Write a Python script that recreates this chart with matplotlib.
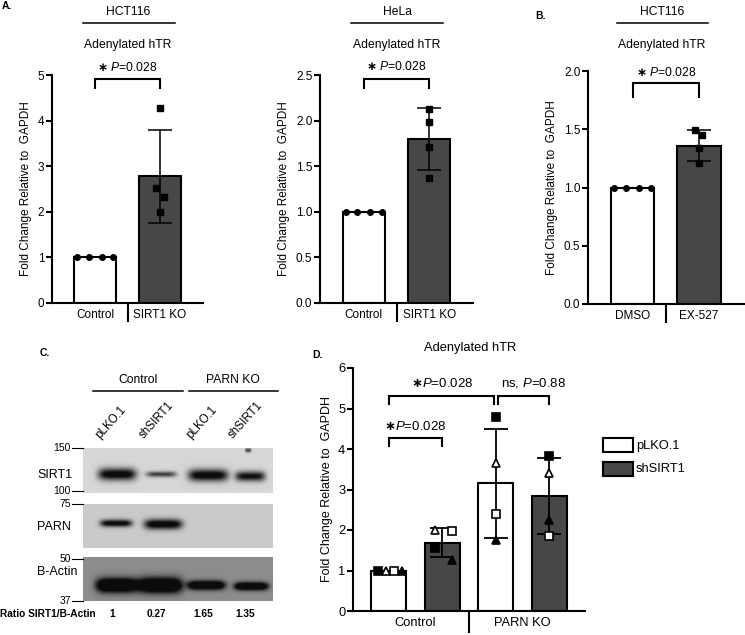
import numpy as np
import matplotlib.pyplot as plt
from matplotlib.patches import Rectangle

plt.rcParams['font.family'] = ['Liberation Sans', 'DejaVu Sans']
plt.rcParams['mathtext.fontset'] = 'custom'
plt.rcParams['mathtext.rm'] = 'Liberation Sans'
plt.rcParams['mathtext.it'] = 'Liberation Sans:italic'
plt.rcParams['mathtext.bf'] = 'DejaVu Sans:bold'
plt.rcParams['mathtext.fallback'] = 'stixsans'

W, H = 745, 635
DARK = '#474747'
STAR = r'$\mathbf{\ast}$'

# ---- data ----
a1_labels = ['Control', 'SIRT1 KO']
a1_mean = [1.0, 2.78]
a1_sd = [0.0, 1.02]
a1_points = [[1.0, 1.0, 1.0, 1.0], [4.28, 2.52, 2.33, 2.0]]

a2_labels = ['Control', 'SIRT1 KO']
a2_mean = [1.0, 1.80]
a2_sd = [0.0, 0.34]
a2_points = [[1.0, 1.0, 1.0, 1.0], [2.13, 1.98, 1.71, 1.37]]

b_labels = ['DMSO', 'EX-527']
b_mean = [1.0, 1.36]
b_sd = [0.0, 0.13]
b_points = [[1.0, 1.0, 1.0, 1.0], [1.49, 1.45, 1.34, 1.21]]

d_groups = ['Control', 'PARN KO']
d_conditions = ['pLKO.1', 'shSIRT1']
d_mean = {'pLKO.1': [1.0, 3.15], 'shSIRT1': [1.69, 2.835]}
d_sd = {'pLKO.1': [0.0, 1.35], 'shSIRT1': [0.36, 0.935]}
# replicates: filled square, open triangle, open square, filled triangle
d_points = {'pLKO.1': [[1.0, 1.0, 1.0, 0.98], [4.8, 3.65, 2.4, 1.75]],
            'shSIRT1': [[1.55, 2.0, 1.97, 1.25], [3.83, 3.4, 1.85, 2.25]]}

c_lanes = ['pLKO.1', 'shSIRT1', 'pLKO.1', 'shSIRT1']
c_ratio = ['1', '0.27', '1.65', '1.35']

# jitter of replicate dots (layout only)
ctrl_jit = [-0.28, -0.1, 0.1, 0.28]
a1_jit = [0.0, -0.06, 0.06, 0.0]
a2_jit = [0.0, 0.0, 0.0, 0.0]
b_jit = [-0.06, 0.05, 0.0, 0.0]
d_jit = {('pLKO.1', 0): [-0.1, -0.03, 0.05, 0.12], ('shSIRT1', 0): [-0.07, -0.07, 0.09, 0.09],
         ('pLKO.1', 1): [0, 0, 0, 0], ('shSIRT1', 1): [0, 0, 0, 0]}
d_marks = [('s', 'black'), ('^', 'white'), ('s', 'white'), ('^', 'black')]


def px_rect(x0, y0, x1, y1):
    return [x0 / W, 1 - y1 / H, (x1 - x0) / W, (y1 - y0) / H]


def style_axes(ax, fs=8.5, div_len=13.5):
    for s in ['top', 'right']:
        ax.spines[s].set_visible(False)
    for s in ['left', 'bottom']:
        ax.spines[s].set_linewidth(1.5)
    ax.tick_params(axis='y', direction='out', length=4, width=1.5, labelsize=fs, pad=1.5)
    ax.tick_params(axis='x', which='major', length=0, labelsize=fs, pad=4)
    ax.set_xticks([0.5], minor=True)
    ax.tick_params(axis='x', which='minor', length=div_len, width=1.5, direction='out')
    ax.set_facecolor('none')


def bracket(ax, x0, x1, ytop, ybot, lw=1.5):
    ax.plot([x0, x0, x1, x1], [ybot, ytop, ytop, ybot], color='black', lw=lw, clip_on=False,
            solid_joinstyle='miter')


fig = plt.figure(figsize=(W / 100, H / 100), dpi=100)
ov = fig.add_axes([0, 0, 1, 1])
ov.set_xlim(0, W)
ov.set_ylim(H, 0)
ov.axis('off')


def small_bar(rect, labels, mean, sd, points, jit, ylim, yticks, fmt, br, xlim=(-0.67, 1.67)):
    ax = fig.add_axes(px_rect(*rect))
    ax.set_zorder(2)
    x = np.arange(len(labels))
    ax.bar(x, mean, width=0.65, color=['white', DARK], edgecolor='black', linewidth=1.5, zorder=2)
    ax.errorbar(x, mean, yerr=sd, fmt='none', ecolor='black', elinewidth=1.1, capsize=8.5,
                capthick=1.1, zorder=3)
    ax.plot(x[0] + np.array(ctrl_jit), points[0], 'o', color='black', ms=4, zorder=4, clip_on=False)
    ax.plot(x[1] + np.array(jit), points[1], 's', color='black', ms=4.3, zorder=4, clip_on=False)
    ax.set_xlim(*xlim)
    ax.set_ylim(*ylim)
    ax.set_yticks(yticks)
    ax.set_yticklabels([fmt.format(t) for t in yticks])
    ax.set_xticks(x)
    ax.set_xticklabels(labels)
    ax.set_ylabel('Fold Change Relative to  GAPDH', fontsize=8.5, labelpad=4)
    style_axes(ax)
    bracket(ax, 0, 1, br[0], br[1])
    ax.text(0.5, br[2], STAR + r' $\it{P}$=0.028', ha='center', va='center', fontsize=8.7)
    return ax


small_bar((52, 75, 203, 303), a1_labels, a1_mean, a1_sd, a1_points, a1_jit,
          (0, 5), [0, 1, 2, 3, 4, 5], '{:g}', (4.91, 4.71, 5.17))
small_bar((320, 75, 473, 303), a2_labels, a2_mean, a2_sd, a2_points, a2_jit,
          (0, 2.5), [0, 0.5, 1, 1.5, 2, 2.5], '{:.1f}', (2.456, 2.357, 2.59))
small_bar((588, 71, 745, 304), b_labels, b_mean, b_sd, b_points, b_jit,
          (0, 2.0), [0, 0.5, 1, 1.5, 2], '{:.1f}', (1.897, 1.777, 1.99), xlim=(-0.67, 1.69))

# headers
for xc, x0, x1, name in [(128, 83, 175, 'HCT116'), (397, 351, 443, 'HeLa'), (662, 617, 708, 'HCT116')]:
    ov.text(xc, 12, name, ha='center', va='center', fontsize=8.7)
    ov.plot([x0, x1], [23, 23], color='black', lw=1.1)
    ov.text(xc, 45, 'Adenylated hTR', ha='center', va='center', fontsize=8.7)
ov.text(2, 6, 'A.', ha='left', va='center', fontsize=7.5, fontweight='bold')
ov.text(535, 16, 'B.', ha='left', va='center', fontsize=7.5, fontweight='bold')

# ---- panel D ----
axd = fig.add_axes(px_rect(353, 368, 585, 611))
axd.set_zorder(2)
gx = np.arange(len(d_groups))
for k, cond in enumerate(d_conditions):
    off = -0.25 if k == 0 else 0.25
    xs = gx + off
    axd.bar(xs, d_mean[cond], width=0.325, color='white' if k == 0 else DARK,
            edgecolor='black', linewidth=1.5, zorder=2)
    axd.errorbar(xs, d_mean[cond], yerr=d_sd[cond], fmt='none', ecolor='black', elinewidth=1.3,
                 capsize=8.5, capthick=1.3, zorder=3)
    for g in range(len(d_groups)):
        for r, (m, fc) in enumerate(d_marks):
            axd.plot(xs[g] + d_jit[(cond, g)][r], d_points[cond][g][r], m, mfc=fc, mec='black',
                     mew=1.2, ms=6.3, zorder=4)
axd.set_xlim(-0.584, 1.584)
axd.set_ylim(0, 6)
axd.set_yticks(range(7))
axd.set_xticks(gx)
axd.set_xticklabels(d_groups)
axd.set_ylabel('Fold Change Relative to  GAPDH', fontsize=9, labelpad=4)
style_axes(axd, fs=9.3, div_len=16)
bracket(axd, -0.25, 0.25, 4.27, 4.07)
axd.text(0.0, 4.56, STAR + r'$\it{P}$=0.028', ha='center', va='center', fontsize=9.5)
bracket(axd, -0.25, 0.73, 5.31, 5.11)
axd.text(0.25, 5.62, STAR + r'$\it{P}$=0.028', ha='center', va='center', fontsize=9.5)
bracket(axd, 0.77, 1.25, 5.31, 5.11)
axd.text(1.1, 5.62, r'ns, $\it{P}$=0.88', ha='center', va='center', fontsize=9.5)
ov.text(470, 348, 'Adenylated hTR', ha='center', va='center', fontsize=9.3)
ov.text(312, 355, 'D.', ha='left', va='center', fontsize=7.5, fontweight='bold')
for k, cond in enumerate(d_conditions):
    y0 = 438 + k * 24
    ov.add_patch(Rectangle((603, y0), 30, 14, facecolor='white' if k == 0 else DARK,
                           edgecolor='black', lw=1.5))
    ov.text(636, y0 + 7.5, cond, ha='left', va='center', fontsize=9.3)

# ---- panel C: western blot ----
lane_x = [117, 161, 208, 250]
blots = [
    # name, y0, y1, background, bands (x, halfwidth, y, halfheight, darkness)
    ('SIRT1', 448, 493, 0.84, [(117, 19, 474, 6.0, 0.9), (161, 15, 474, 2.8, 0.6),
                               (208, 20, 475, 6.0, 0.9), (250, 15, 476, 5.0, 0.8),
                               (248, 3, 450, 2.0, 0.6)]),
    ('PARN', 504, 548, 0.79, [(116, 16, 523, 3.6, 0.85), (163, 19, 524, 5.0, 0.9)]),
    ('B-Actin', 557, 601, 0.55, [(117, 21, 585, 7.0, 0.95), (160, 22, 585, 7.5, 0.95),
                                 (206, 19, 585, 4.5, 0.85), (251, 17, 586, 4.0, 0.85)]),
]
bx0, bx1 = 83, 273
for name, y0, y1, bg, bands in blots:
    xx, yy = np.meshgrid(np.arange(bx0, bx1, 0.5), np.arange(y0, y1, 0.5))
    img = np.full(xx.shape, bg)
    for (cx, hw, cy, hh, dk) in bands:
        img -= dk * np.exp(-np.abs((xx - cx) / hw) ** 5) * np.exp(-((yy - cy) / hh) ** 2)
    img = np.clip(img, 0.05, 1)
    ov.imshow(img, cmap='gray', vmin=0, vmax=1, extent=(bx0, bx1, y1, y0), aspect='auto',
              interpolation='bilinear')
ov.set_xlim(0, W)
ov.set_ylim(H, 0)

ov.text(37, 475, 'SIRT1', ha='left', va='center', fontsize=9)
ov.text(37, 527, 'PARN', ha='left', va='center', fontsize=9)
ov.text(37, 572, 'B-Actin', ha='left', va='center', fontsize=9)
for val, yy_ in [('150', 448), ('100', 491), ('75', 504), ('50', 559), ('37', 601)]:
    ov.text(71, yy_, val, ha='right', va='center', fontsize=7.5)
    ov.plot([72, 83], [yy_, yy_], color='black', lw=0.8)
for lx, name in zip(lane_x, c_lanes):
    ov.text(lx - 15, 441, name, rotation=48, rotation_mode='anchor', ha='left', va='bottom',
            fontsize=8.4)
ov.text(138, 380, 'Control', ha='center', va='center', fontsize=8.7)
ov.plot([93, 183], [391, 391], color='black', lw=1.1)
ov.text(233, 380, 'PARN KO', ha='center', va='center', fontsize=8.7)
ov.plot([189, 278], [391, 391], color='black', lw=1.1)
ov.text(40, 353, 'C.', ha='left', va='center', fontsize=7.5, fontweight='bold')
ov.text(0, 614, 'Ratio SIRT1/B-Actin', ha='left', va='center', fontsize=7.3, fontweight='bold')
for lx, r in zip(lane_x, c_ratio):
    ov.text(lx - 5, 614, r, ha='center', va='center', fontsize=7.3, fontweight='bold')

fig.savefig('out.png', dpi=100)
